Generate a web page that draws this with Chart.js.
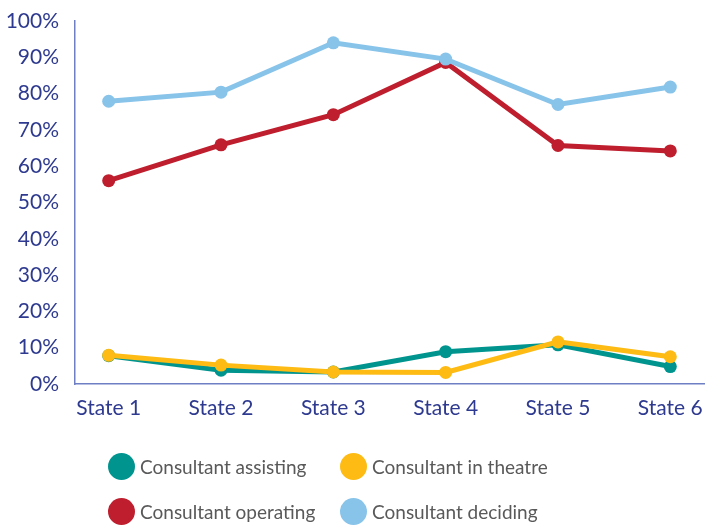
<!DOCTYPE html>
<html>
<head>
<meta charset="utf-8">
<script src="https://cdn.jsdelivr.net/npm/chart.js@4/dist/chart.umd.min.js"></script>
<style>
  html, body { margin: 0; padding: 0; background: #fff; }
  #wrap { position: relative; width: 721px; height: 525px; }
  #legend { position: absolute; left: 0; top: 0; width: 721px; height: 525px; pointer-events: none; }
  .item { position: absolute; display: flex; align-items: center; font-family: Lato, "Open Sans", sans-serif; font-size: 19px; color: #595959; white-space: nowrap; }
  .dot { width: 27px; height: 27px; border-radius: 50%; margin-right: 5px; flex: none; }
</style>
</head>
<body>
<div id="wrap">
  <canvas id="c" width="721" height="525"></canvas>
  <div id="legend"></div>
</div>
<script>
const categories = ["State 1", "State 2", "State 3", "State 4", "State 5", "State 6"];
const seriesNames = ["Consultant assisting", "Consultant in theatre", "Consultant operating", "Consultant deciding"];
const assisting = [7.8, 3.8, 3.3, 8.9, 10.8, 4.8];
const inTheatre = [7.9, 5.2, 3.3, 3.2, 11.6, 7.5];
const operating = [56.0, 65.9, 74.2, 88.6, 65.7, 64.2];
const deciding = [77.9, 80.4, 94.0, 89.5, 77.0, 81.8];
const yTicks = [0, 10, 20, 30, 40, 50, 60, 70, 80, 90, 100];
const colors = ["#00948F", "#FDBB13", "#BE1E2D", "#88C3EA"];

const seriesValues = [assisting, inTheatre, operating, deciding];
const drawOrder = [2, 0, 3, 1];

const datasets = seriesValues.map((vals, i) => ({
  label: seriesNames[i],
  data: vals.map((v, k) => ({ x: k, y: v })),
  borderColor: colors[i],
  backgroundColor: colors[i],
  pointBackgroundColor: colors[i],
  pointBorderColor: colors[i],
  borderWidth: 5,
  pointRadius: 6.5,
  pointBorderWidth: 0,
  tension: 0,
  order: drawOrder[i]
}));

const navy = "#2E3A8F";
const axisLine = "#6F7FC4";

new Chart(document.getElementById("c"), {
  type: "line",
  data: { datasets },
  options: {
    responsive: false,
    animation: false,
    events: [],
    layout: { padding: { left: 0, right: 17, top: 21, bottom: 99 } },
    plugins: { legend: { display: false }, tooltip: { enabled: false } },
    scales: {
      x: {
        type: "linear",
        min: -0.3,
        max: 5.3,
        grid: { display: false },
        border: { display: true, color: axisLine, width: 1.5 },
        afterBuildTicks: s => { s.ticks = categories.map((_, k) => ({ value: k })); },
        afterFit: s => { s.height = 42; },
        ticks: {
          color: navy,
          font: { family: "Lato, 'Open Sans', sans-serif", size: 21 },
          padding: 4,
          maxRotation: 0,
          autoSkip: false,
          callback: v => categories[v]
        }
      },
      y: {
        min: 0,
        max: 100,
        grid: { display: false },
        border: { display: true, color: axisLine, width: 1.5 },
        afterBuildTicks: s => { s.ticks = yTicks.map(v => ({ value: v })); },
        afterFit: s => { s.width = 75; },
        ticks: {
          color: navy,
          font: { family: "Lato, 'Open Sans', sans-serif", size: 21 },
          padding: 8,
          callback: v => v + "%"
        }
      }
    }
  }
});

const legendPos = [
  { left: 108, top: 453 }, { left: 340, top: 453 },
  { left: 108, top: 498 }, { left: 340, top: 498 }
];
const legend = document.getElementById("legend");
seriesNames.forEach((name, i) => {
  const it = document.createElement("div");
  it.className = "item";
  it.style.left = legendPos[i].left + "px";
  it.style.top = legendPos[i].top + "px";
  const d = document.createElement("span");
  d.className = "dot";
  d.style.background = colors[i];
  const t = document.createElement("span");
  t.textContent = name;
  it.appendChild(d);
  it.appendChild(t);
  legend.appendChild(it);
});
</script>
</body>
</html>
